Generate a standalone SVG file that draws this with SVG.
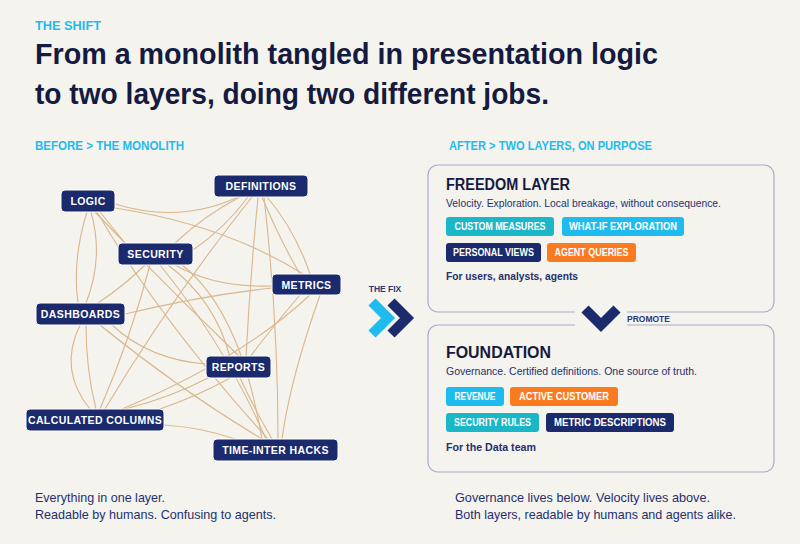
<svg xmlns="http://www.w3.org/2000/svg" width="800" height="544" viewBox="0 0 800 544">
<style>
  .bg{fill:#f5f3ee}
  .eyebrow{font-family:"Liberation Sans",Arial,sans-serif;font-weight:700;font-size:12px;fill:#1ebbee}
  .title{font-family:"Liberation Sans",Arial,sans-serif;font-weight:700;font-size:29px;fill:#141a40}
  .node rect{fill:#1a2a6c;stroke:#ffffff;stroke-width:1}
  .node text{font-family:"Liberation Sans",Arial,sans-serif;font-weight:700;font-size:10.5px;fill:#ffffff;text-anchor:middle;letter-spacing:0.4px}
  .edges path{fill:none;stroke:#d9b78c;stroke-width:1.1}
  .panel{fill:#f5f3ee;stroke:#a7abcc;stroke-width:1.2}
  .ptitle{font-family:"Liberation Sans",Arial,sans-serif;font-weight:700;font-size:16px;fill:#141a40}
  .psub{font-family:"Liberation Sans",Arial,sans-serif;font-size:11.5px;fill:#24306e}
  .pfor{font-family:"Liberation Sans",Arial,sans-serif;font-weight:700;font-size:11.5px;fill:#24306e}
  .pill text{font-family:"Liberation Sans",Arial,sans-serif;font-weight:700;font-size:10px;fill:#ffffff;text-anchor:middle}
  .teal{fill:#1ab7c9}.cyan{fill:#1ebcee}.navy{fill:#1a2a6c}.orange{fill:#f97a1f}
  .foot{font-family:"Liberation Sans",Arial,sans-serif;font-size:13px;fill:#24306e}
  .small{font-family:"Liberation Sans",Arial,sans-serif;font-weight:700;font-size:8.5px;fill:#2b3878}
</style>
<rect class="bg" x="0" y="0" width="800" height="544"/>

<g id="header">
  <text class="eyebrow" x="35" y="30" textLength="66" lengthAdjust="spacingAndGlyphs">THE SHIFT</text>
  <text class="title" x="35" y="64" textLength="623" lengthAdjust="spacingAndGlyphs">From a monolith tangled in presentation logic</text>
  <text class="title" x="35" y="104" textLength="514" lengthAdjust="spacingAndGlyphs">to two layers, doing two different jobs.</text>
</g>

<text class="eyebrow" x="35" y="150" textLength="149" lengthAdjust="spacingAndGlyphs">BEFORE &gt; THE MONOLITH</text>

<g class="edges" id="connectors">
  <path d="M115,204 Q180,224 238,197"/>
  <path d="M115,208 Q225,225 303,274"/>
  <path d="M87,212 Q72,260 78,303"/>
  <path d="M91,212 Q104,258 86,303"/>
  <path d="M95,212 Q165,285 240,357"/>
  <path d="M97,212 Q160,320 268,439"/>
  <path d="M100,212 L125,243"/>
  <path d="M240,197 Q205,215 175,243"/>
  <path d="M248,197 Q225,228 193,250"/>
  <path d="M252,197 Q170,300 105,409"/>
  <path d="M258,197 Q250,280 246,357"/>
  <path d="M262,197 Q280,240 300,274"/>
  <path d="M267,197 Q295,230 310,274"/>
  <path d="M264,197 Q278,320 278,439"/>
  <path d="M175,265 Q215,288 272,286"/>
  <path d="M145,265 Q125,285 98,303"/>
  <path d="M150,265 Q130,340 100,409"/>
  <path d="M168,265 Q215,300 230,357"/>
  <path d="M160,265 Q225,345 266,439"/>
  <path d="M182,265 Q240,310 262,439"/>
  <path d="M272,288 Q200,296 125,314"/>
  <path d="M300,295 Q270,330 250,357"/>
  <path d="M310,295 Q240,360 122,409"/>
  <path d="M320,295 Q290,380 282,439"/>
  <path d="M80,325 Q58,370 90,409"/>
  <path d="M86,325 Q86,370 96,409"/>
  <path d="M112,325 Q150,360 206,364"/>
  <path d="M100,325 Q180,390 262,439"/>
  <path d="M212,376 Q170,398 125,409"/>
  <path d="M230,378 Q200,395 160,409"/>
  <path d="M240,378 Q255,410 272,439"/>
  <path d="M164,425 Q200,427 235,439"/>
</g>

<g id="n-logic" class="node"><rect x="61" y="190" width="54" height="22" rx="4"/><text x="88" y="205">LOGIC</text></g>
<g id="n-definitions" class="node"><rect x="214" y="175" width="94" height="22" rx="4"/><text x="261" y="190">DEFINITIONS</text></g>
<g id="n-security" class="node"><rect x="118" y="243" width="75" height="22" rx="4"/><text x="155.5" y="258">SECURITY</text></g>
<g id="n-metrics" class="node"><rect x="272" y="274" width="69" height="21" rx="4"/><text x="306.5" y="288.5">METRICS</text></g>
<g id="n-dashboards" class="node"><rect x="36" y="303" width="89" height="22" rx="4"/><text x="80.5" y="318">DASHBOARDS</text></g>
<g id="n-reports" class="node"><rect x="206" y="356" width="65" height="22" rx="4"/><text x="238.5" y="371">REPORTS</text></g>
<g id="n-calc" class="node"><rect x="26" y="409" width="138" height="22" rx="4"/><text x="95" y="424">CALCULATED COLUMNS</text></g>
<g id="n-time" class="node"><rect x="213" y="439" width="125" height="22" rx="4"/><text x="275.5" y="454">TIME-INTER HACKS</text></g>

<text class="foot" x="35" y="502" textLength="130" lengthAdjust="spacingAndGlyphs">Everything in one layer.</text>
<text class="foot" x="35" y="519" textLength="241" lengthAdjust="spacingAndGlyphs">Readable by humans. Confusing to agents.</text>

<g id="the-fix">
  <text class="small" x="385" y="292" text-anchor="middle">THE FIX</text>
  <polyline points="372,302 388,318 372,334" fill="none" stroke="#1ebcee" stroke-width="10"/>
  <polyline points="391,302 407,318 391,334" fill="none" stroke="#1a2a6c" stroke-width="10"/>
</g>

<text class="eyebrow" x="449" y="150" textLength="203" lengthAdjust="spacingAndGlyphs">AFTER &gt; TWO LAYERS, ON PURPOSE</text>

<g id="freedom-layer">
  <rect class="panel" x="428" y="165" width="346" height="147" rx="10"/>
  <text class="ptitle" x="446" y="190" textLength="124" lengthAdjust="spacingAndGlyphs">FREEDOM LAYER</text>
  <text class="psub" x="446" y="207" textLength="275" lengthAdjust="spacingAndGlyphs">Velocity. Exploration. Local breakage, without consequence.</text>
  <g class="pill"><rect class="teal" x="446" y="217" width="108" height="19" rx="3"/><text x="500" y="230" textLength="91" lengthAdjust="spacingAndGlyphs">CUSTOM MEASURES</text></g>
  <g class="pill"><rect class="cyan" x="562" y="217" width="122" height="19" rx="3"/><text x="623" y="230" textLength="108" lengthAdjust="spacingAndGlyphs">WHAT-IF EXPLORATION</text></g>
  <g class="pill"><rect class="navy" x="446" y="243" width="95" height="19" rx="3"/><text x="493.5" y="256" textLength="81" lengthAdjust="spacingAndGlyphs">PERSONAL VIEWS</text></g>
  <g class="pill"><rect class="orange" x="547" y="243" width="89" height="19" rx="3"/><text x="591.5" y="256" textLength="74" lengthAdjust="spacingAndGlyphs">AGENT QUERIES</text></g>
  <text class="pfor" x="446" y="280" textLength="132" lengthAdjust="spacingAndGlyphs">For users, analysts, agents</text>
</g>

<g id="foundation">
  <rect class="panel" x="428" y="325" width="346" height="147" rx="10"/>
  <text class="ptitle" x="446" y="358" textLength="105" lengthAdjust="spacingAndGlyphs">FOUNDATION</text>
  <text class="psub" x="446" y="375" textLength="251" lengthAdjust="spacingAndGlyphs">Governance. Certified definitions. One source of truth.</text>
  <g class="pill"><rect class="cyan" x="446" y="387" width="58" height="19" rx="3"/><text x="475" y="400" textLength="41" lengthAdjust="spacingAndGlyphs">REVENUE</text></g>
  <g class="pill"><rect class="orange" x="510" y="387" width="108" height="19" rx="3"/><text x="564" y="400" textLength="90" lengthAdjust="spacingAndGlyphs">ACTIVE CUSTOMER</text></g>
  <g class="pill"><rect class="teal" x="446" y="413" width="93" height="19" rx="3"/><text x="492.5" y="426" textLength="77" lengthAdjust="spacingAndGlyphs">SECURITY RULES</text></g>
  <g class="pill"><rect class="navy" x="546" y="413" width="128" height="19" rx="3"/><text x="610" y="426" textLength="112" lengthAdjust="spacingAndGlyphs">METRIC DESCRIPTIONS</text></g>
  <text class="pfor" x="446" y="451" textLength="90" lengthAdjust="spacingAndGlyphs">For the Data team</text>
</g>

<g id="promote">
  <rect class="bg" x="575" y="303" width="52" height="28"/>
  <polyline points="585,309 601,325 617,309" fill="none" stroke="#1a2a6c" stroke-width="10"/>
  <text class="small" x="627" y="322">PROMOTE</text>
</g>

<text class="foot" x="455" y="502" textLength="255" lengthAdjust="spacingAndGlyphs">Governance lives below. Velocity lives above.</text>
<text class="foot" x="455" y="519" textLength="281" lengthAdjust="spacingAndGlyphs">Both layers, readable by humans and agents alike.</text>
</svg>
